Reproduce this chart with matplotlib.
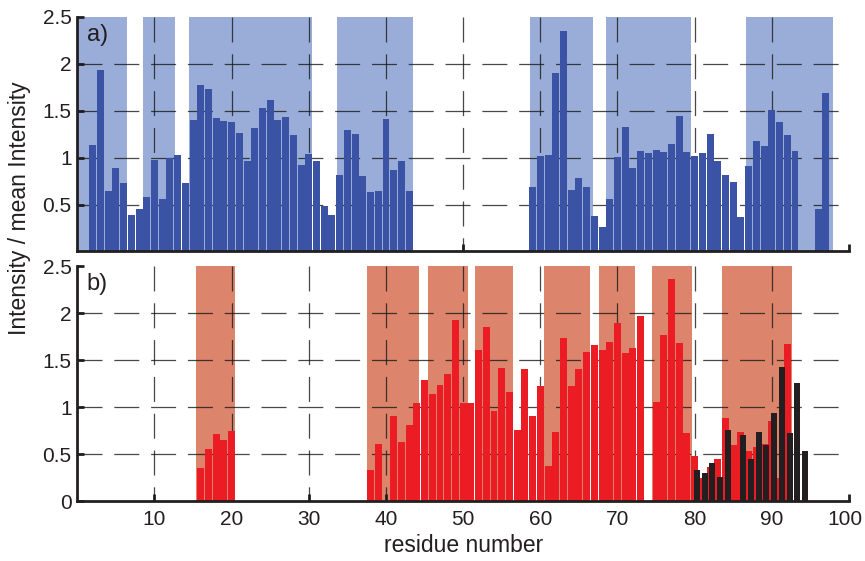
import matplotlib
matplotlib.use("Agg")
import matplotlib.pyplot as plt
import matplotlib.transforms as mtransforms

plt.rcParams['font.family'] = ['Liberation Sans', 'DejaVu Sans']
plt.rcParams['lines.scale_dashes'] = False

# ---- data ----
top_residues = [2, 3, 4, 5, 6, 7, 8, 9, 10, 11, 12, 13, 14, 15, 16, 17, 18, 19, 20, 21,
                22, 23, 24, 25, 26, 27, 28, 29, 30, 31, 32, 33, 34, 35, 36, 37, 38, 39, 40, 41,
                42, 43,
                59, 60, 61, 62, 63, 64, 65, 66, 67, 68, 69, 70, 71, 72, 73, 74, 75, 76, 77, 78,
                79, 80, 81, 82, 83, 84, 85, 86, 87, 88, 89, 90, 91, 92, 93,
                96, 97]
top_values = [1.14, 1.94, 0.64, 0.89, 0.725, 0.39, 0.45, 0.585, 0.98, 0.556, 1.0, 1.03, 0.725, 1.405,
              1.78, 1.73, 1.42, 1.39, 1.38, 1.26, 0.96, 1.32, 1.53, 1.62, 1.40, 1.43, 1.24, 0.925,
              1.04, 0.96, 0.48, 0.39, 0.82, 1.30, 1.25, 0.81, 0.63, 0.645, 1.41, 0.87, 0.96, 0.645,
              0.69, 1.02, 1.03, 1.90, 2.35, 0.655, 0.78, 0.69, 0.376, 0.26, 0.556, 1.01, 1.33, 0.89,
              1.07, 1.05, 1.085, 1.06, 1.15, 1.44,
              1.06, 1.02, 1.05, 1.25, 0.97, 0.82, 0.746, 0.366, 0.915, 1.18, 1.13, 1.51, 1.38, 1.24, 1.07,
              0.45, 1.69]

red_residues = [16, 17, 18, 19, 20,
                38, 39, 41, 42, 43, 44, 45, 46, 47, 48, 49, 50, 51, 52, 53, 54, 55, 56, 57, 58,
                59, 60, 61, 62, 63, 64, 65, 66, 67, 68, 69, 70, 71, 72, 73,
                75, 76, 77, 78, 79, 80, 81, 82, 83, 84, 85, 86, 87, 88, 89, 90, 91, 92]
red_values = [0.355, 0.556, 0.715, 0.65, 0.745,
              0.333, 0.61, 0.907, 0.63, 0.81, 1.045, 1.29, 1.14, 1.236, 1.35, 1.925, 1.045, 1.045,
              1.61, 1.85, 0.96, 1.42, 1.16, 0.76, 1.40,
              0.907, 1.225, 0.376, 0.737, 1.735, 1.225, 1.405, 1.585, 1.66, 1.61, 1.69, 1.89, 1.58,
              1.63, 1.965,
              1.055, 1.77, 2.36, 1.68, 0.726, 0.48, 0.25, 0.365, 0.45, 0.885, 0.60, 0.74, 0.535,
              0.58, 0.61, 0.855, 0.25, 1.67]

black_residues = [80, 81, 82, 83, 84, 86, 87, 88, 89, 90, 91, 92, 93, 94]
black_values = [0.333, 0.30, 0.41, 0.26, 0.76, 0.705, 0.45, 0.74, 0.60, 0.94, 1.43, 0.72, 1.26, 0.535]

top_regions = [(0, 6.4), (8.5, 12.7), (14.5, 30.4), (33.6, 43.55), (58.66, 66.8), (68.5, 79.57), (86.7, 97.9)]
bottom_regions = [(15.4, 20.5), (37.5, 44.3), (45.4, 50.6), (51.5, 56.5), (60.45, 66.5),
                  (67.6, 72.3), (74.45, 79.6), (83.5, 92.65)]

x_ticks = [10, 20, 30, 40, 50, 60, 70, 80, 90, 100]
top_yticks = [0.5, 1, 1.5, 2, 2.5]
bottom_yticks = [0, 0.5, 1, 1.5, 2, 2.5]
grid_x = [10, 20, 30, 40, 50, 60, 70, 80, 90]
grid_y = [0.5, 1.0, 1.5, 2.0]

# ---- styles ----
BLUE = '#3A53A4'
BLUE_SHADE = '#9AADD8'
RED = '#EC1C24'
RED_SHADE = '#DC846C'
BLACK = '#231F20'

fig = plt.figure(figsize=(8.65, 5.61), dpi=100)
left, right = 77.3 / 865, 849 / 865
ax1 = fig.add_axes([left, 1 - 251.5 / 561, right - left, (251.5 - 17) / 561])
ax2 = fig.add_axes([left, 1 - 501.2 / 561, right - left, (501.2 - 266) / 561])


def style(ax, shade, regions, yticks, show_xlabels):
    ax.set_xlim(0, 100)
    ax.set_ylim(0, 2.5)
    for a, b in regions:
        ax.axvspan(a, b, ymin=0, ymax=1, color=shade, lw=0, zorder=1)
    for gx in grid_x:
        ax.plot([gx, gx], [2.5, 0], color='#1a1a1a', lw=0.9, dashes=(18, 8.5), alpha=0.8, zorder=2)
    for gy in grid_y:
        ax.plot([0, 100], [gy, gy], color='#1a1a1a', lw=0.9, dashes=(18, 8.5), alpha=0.8, zorder=2)
    for s in ['top', 'right']:
        ax.spines[s].set_visible(False)
    for s in ['left', 'bottom']:
        ax.spines[s].set_linewidth(2.0)
        ax.spines[s].set_color(BLACK)
        ax.spines[s].set_zorder(5)
    ax.set_xticks(x_ticks)
    ax.set_yticks(yticks)
    ax.set_yticklabels([('%g' % v) for v in yticks])
    ax.tick_params(axis='both', direction='in', length=5, width=2, color=BLACK,
                   labelsize=15, labelcolor='#231F20', pad=4)
    ax.tick_params(axis='x', pad=6)
    if not show_xlabels:
        ax.tick_params(axis='x', labelbottom=False)
    ax.set_facecolor('none')


style(ax1, BLUE_SHADE, top_regions, top_yticks, False)
style(ax2, RED_SHADE, bottom_regions, bottom_yticks, True)

ax1.bar(top_residues, top_values, width=0.9, color=BLUE, lw=0, zorder=3)
ax2.bar(red_residues, red_values, width=0.9, color=RED, lw=0, zorder=3)
ax2.bar([r + 0.3 for r in black_residues], black_values, width=0.78, color=BLACK, lw=0, zorder=4)

ax1.text(1.2, 2.43, 'a)', fontsize=17, va='top', ha='left', color='#231F20', zorder=6)
ax2.text(1.2, 2.43, 'b)', fontsize=17, va='top', ha='left', color='#231F20', zorder=6)

ax2.set_xlabel('residue number', fontsize=16.5, color='#231F20', labelpad=4)
fig.text(20 / 865, 1 - 208 / 561, 'Intensity / mean Intensity', rotation=90,
         ha='center', va='center', fontsize=16.5, color='#231F20')

# keep the last x tick label ("100") inside the canvas
fig.canvas.draw()
last = ax2.get_xticklabels()[-1]
last.set_transform(last.get_transform() + mtransforms.ScaledTranslation(-4 / 100, 0, fig.dpi_scale_trans))

fig.savefig('out.png', dpi=100)
